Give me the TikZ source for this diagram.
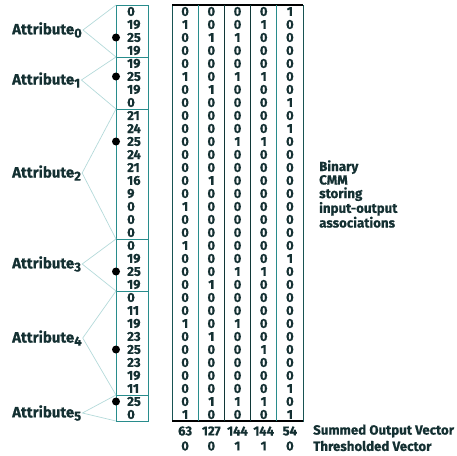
\documentclass[tikz,border=0pt]{standalone}
\usepackage{fontspec}
\setmainfont{Fira Sans}[BoldFeatures={FakeBold=0.6}]
\usetikzlibrary{positioning,calc}

\definecolor{ink}{RGB}{20,48,50}
\definecolor{rule}{RGB}{40,140,140}
\definecolor{fanline}{RGB}{180,218,218}

\begin{document}
\begin{tikzpicture}[x=1pt,y=-1pt,
    val/.style={font=\bfseries\fontsize{13}{13}\selectfont,text=ink,inner sep=0pt},
    attr/.style={font=\bfseries\fontsize{15}{16}\selectfont,text=ink,anchor=west,inner sep=1pt},
    note/.style={font=\bfseries\fontsize{13.3}{13.5}\selectfont,text=ink,anchor=west,align=left,inner sep=0pt},
    grp/.style={draw=rule,line width=0.6pt},
    fan/.style={draw=fanline,line width=0.7pt},
    hit/.style={circle,fill=black,inner sep=0pt,minimum size=8pt}]
  \useasboundingbox (0,0) rectangle (457,455);

  % input values and the binary matrix, one row at a time
  \foreach \v/\a/\b/\c/\d/\e [count=\r] in {
      0/0/0/0/0/1, 19/1/0/0/1/0, 25/0/1/1/0/0, 19/0/0/0/0/0,
      19/0/0/0/0/0, 25/1/0/1/1/0, 19/0/1/0/0/0, 0/0/0/0/0/1,
      21/0/0/0/0/0, 24/0/0/0/0/1, 25/0/0/1/1/0, 24/0/0/0/0/0,
      21/0/0/0/0/0, 16/0/1/0/0/0, 9/0/0/0/0/0, 0/1/0/0/0/0,
      0/0/0/0/0/0, 0/0/0/0/0/0,
      0/1/0/0/0/0, 19/0/0/0/0/1, 25/0/0/1/1/0, 19/0/1/0/0/0,
      0/0/0/0/0/0, 11/0/0/0/0/0, 19/1/0/1/0/0, 23/0/1/0/0/0,
      25/0/0/0/1/0, 23/0/0/0/0/0, 19/0/0/0/0/0, 11/0/0/0/0/1,
      25/0/1/1/1/0, 0/1/0/0/0/1} {
    \node[val,anchor=west] (v\r) at (127,{5+(\r-0.5)*13}) {\v};
    \foreach \bitv [count=\k] in {\a,\b,\c,\d,\e}
      \node[val] (b\r-\k) at ({172+(\k-0.5)*26.2},{5+(\r-0.5)*13}) {\bitv};
  }

  % attribute groups
  \foreach \n/\top/\bot/\dotrow/\ly in {0/1/4/3/30, 1/5/8/6/80, 2/9/18/11/173,
      3/19/22/21/264, 4/23/30/27/338, 5/31/32/31/413} {
    \coordinate (g\n t) at (116,{5+(\top-1)*13});
    \coordinate (g\n b) at (116,{5+\bot*13});
    \draw[grp] (g\n t) rectangle ++(32,{(\bot-\top+1)*13});
    \node[attr] (a\n) at (11,\ly)
      {Attribute{\fontsize{13}{13}\selectfont\raisebox{-0.45ex}{\n}}};
    \draw[fan] (g\n t) -- (a\n.east) -- (g\n b);
    \node[hit] (d\n) at (116,{5+(\dotrow-0.5)*13}) {};
  }

  % matrix frame
  \coordinate (mtl) at (172,5);
  \coordinate (mbr) at (303,421);
  \draw[rule!60!black,line width=0.9pt] (mtl) rectangle (mbr);
  \draw[black,line width=1.3pt] (mtl) -- (mtl -| mbr);
  \draw[black,line width=1.3pt] (mbr -| mtl) -- (mbr);
  \foreach \k/\c in {1/rule,2/rule!40!black,3/rule!40!black,4/rule}
    \draw[\c,line width=0.8pt] ({172+\k*26.2},5) -- ({172+\k*26.2},421);

  % outputs
  \foreach \s/\t [count=\k] in {63/0,127/0,144/1,144/1,54/0} {
    \node[val] (s\k) at ({172+(\k-0.5)*26.2},431) {\s};
    \node[val] (t\k) at ({172+(\k-0.5)*26.2},446) {\t};
  }
  \node[note] (summed) at (313,431) {Summed Output Vector};
  \node[note] (thresh) at (313,446) {Thresholded Vector};
  \node[note] (cmm) at (319,194) {Binary\\CMM\\storing\\input-output\\associations};
\end{tikzpicture}
\end{document}
